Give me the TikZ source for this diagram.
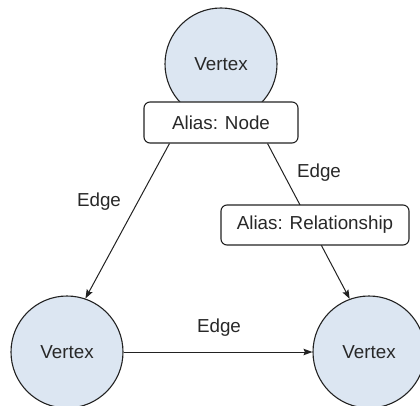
\documentclass[tikz,border=0pt]{standalone}
\usepackage{fontspec}
\setmainfont{Liberation Sans}
\usetikzlibrary{calc,arrows.meta,backgrounds}
\definecolor{vfill}{RGB}{220,230,242}
\definecolor{ink}{RGB}{34,34,34}
\definecolor{txt}{RGB}{40,40,40}
\tikzset{
  vtx/.style={circle, draw=ink, line width=1.1pt, fill=vfill, minimum size=112pt, inner sep=0pt, text=txt, font=\fontsize{18.8}{22}\selectfont},
  aliasbox/.style={rectangle, rounded corners=6pt, draw=ink, line width=1.1pt, fill=white, inner sep=0pt, text=txt, font=\fontsize{18.8}{22}\selectfont},
  lbl/.style={text=txt, inner sep=1pt, font=\fontsize{18.8}{22}\selectfont},
  arr/.style={draw=ink, line width=1pt, -{Stealth[length=9pt,width=6.5pt,inset=1.5pt]}}
}
\begin{document}
\begin{tikzpicture}[x=1pt,y=-1pt]
\clip (0,0) rectangle (420,406);
\node[vtx] (vt) at (221,64) {Vertex};
\node[vtx] (vl) at (67,352) {Vertex};
\node[vtx] (vr) at (369,352) {Vertex};
\node[aliasbox, minimum width=154pt, minimum height=41pt] (an) at (221,122.5) {Alias: Node};
\node[aliasbox, minimum width=188pt, minimum height=40pt] (ar) at (315,225) {Alias: Relationship};
\begin{pgfonlayer}{background}
\draw[arr] ($(an.south west)+(26,0)$) -- (vl.71);
\draw[arr] ($(an.south east)+(-31,0)$) -- (vr.110);
\end{pgfonlayer}
\draw[arr] (vl.east) -- (vr.west);
\node[lbl] (e1) at (99,202) {Edge};
\node[lbl] (e2) at (319,173) {Edge};
\node[lbl] (e3) at (219,328) {Edge};
\end{tikzpicture}
\end{document}
